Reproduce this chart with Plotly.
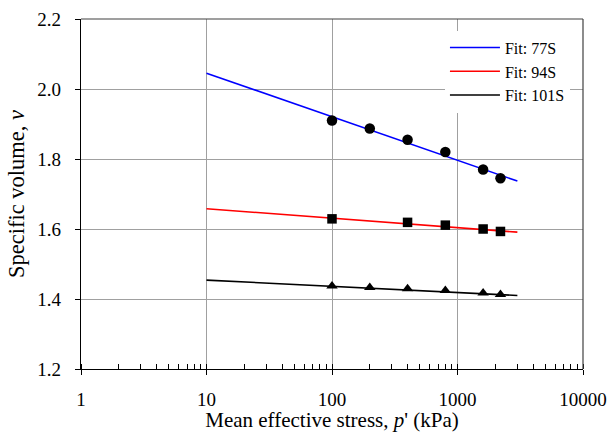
import plotly.graph_objects as go

# Measured specific volume v at each mean effective stress p' (kPa)
p_77s = [100, 200, 400, 800, 1600, 2200]
v_77s = [1.910, 1.887, 1.855, 1.820, 1.770, 1.745]

p_94s = [100, 400, 800, 1600, 2200]
v_94s = [1.629, 1.619, 1.611, 1.600, 1.593]

p_101s = [100, 200, 400, 800, 1600, 2200]
v_101s = [1.437, 1.433, 1.429, 1.424, 1.417, 1.413]

# Fitted compression lines (straight in log p'), given by their end points
fit_p = [10, 3000]
fit_77s = [2.045, 1.737]
fit_94s = [1.658, 1.591]
fit_101s = [1.454, 1.410]

x_tickvals = [1, 10, 100, 1000, 10000]
x_ticktext = ["1", "10", "100", "1000", "10000"]
y_tickvals = [1.2, 1.4, 1.6, 1.8, 2.0, 2.2]

FONT = "Liberation Serif"

fig = go.Figure()

fits = [
    ("Fit: 77S", fit_77s, "#0000ff"),
    ("Fit: 94S", fit_94s, "#ff0000"),
    ("Fit: 101S", fit_101s, "#000000"),
]
for name, vals, col in fits:
    fig.add_trace(go.Scatter(
        x=fit_p, y=vals, mode="lines", name=name,
        line=dict(color=col, width=1.6),
    ))

points = [
    (p_77s, v_77s, "circle", 10.5),
    (p_94s, v_94s, "square", 9.5),
    (p_101s, v_101s, "triangle-up", 10),
]
for px, vy, sym, sz in points:
    fig.add_trace(go.Scatter(
        x=px, y=vy, mode="markers", showlegend=False,
        marker=dict(symbol=sym, size=sz, color="black", line=dict(width=0)),
    ))

# plot frame: top and right edges
fig.add_shape(type="line", xref="paper", yref="paper", x0=0, x1=1, y0=1, y1=1,
              line=dict(color="#404040", width=1.2))
fig.add_shape(type="line", xref="paper", yref="paper", x0=1, x1=1, y0=0, y1=1,
              line=dict(color="#404040", width=1.2))

fig.update_xaxes(
    type="log", range=[0, 4], automargin=False,
    tickvals=x_tickvals, ticktext=x_ticktext,
    ticks="outside", ticklen=5, tickcolor="black", tickwidth=1,
    showline=True, linecolor="black", linewidth=1.2,
    showgrid=True, gridcolor="#a0a0a0", gridwidth=1,
    zeroline=False,
    minor=dict(ticks="inside", ticklen=5, tickcolor="black", tickwidth=1,
               dtick="D1", showgrid=False),
    tickfont=dict(family=FONT, size=19, color="black"),
    ticklabelstandoff=8,
    title=dict(text="Mean effective stress, <i>p</i>' (kPa)",
               font=dict(family=FONT, size=21, color="black"), standoff=0),
)
fig.update_yaxes(
    range=[1.2, 2.2], tickvals=y_tickvals, tickformat=".1f", automargin=False,
    ticks="outside", ticklen=5, tickcolor="black", tickwidth=1,
    showline=True, linecolor="black", linewidth=1.2,
    showgrid=True, gridcolor="#a0a0a0", gridwidth=1,
    zeroline=False,
    tickfont=dict(family=FONT, size=19, color="black"),
    ticklabelstandoff=10,
    title=dict(text="Specific volume, <i>v</i>",
               font=dict(family=FONT, size=22.5, color="black"), standoff=6),
)

fig.update_layout(
    template="none",
    width=611, height=432,
    margin=dict(l=81, r=28, t=19, b=63, autoexpand=False),
    paper_bgcolor="white", plot_bgcolor="white",
    font=dict(family=FONT, color="black"),
    showlegend=True,
    legend=dict(
        x=0.725, y=0.967, xanchor="left", yanchor="top",
        bgcolor="white", borderwidth=0,
        font=dict(family=FONT, size=16, color="black"),
        itemwidth=50, tracegroupgap=0,
    ),
)

fig.write_html("out.html")
